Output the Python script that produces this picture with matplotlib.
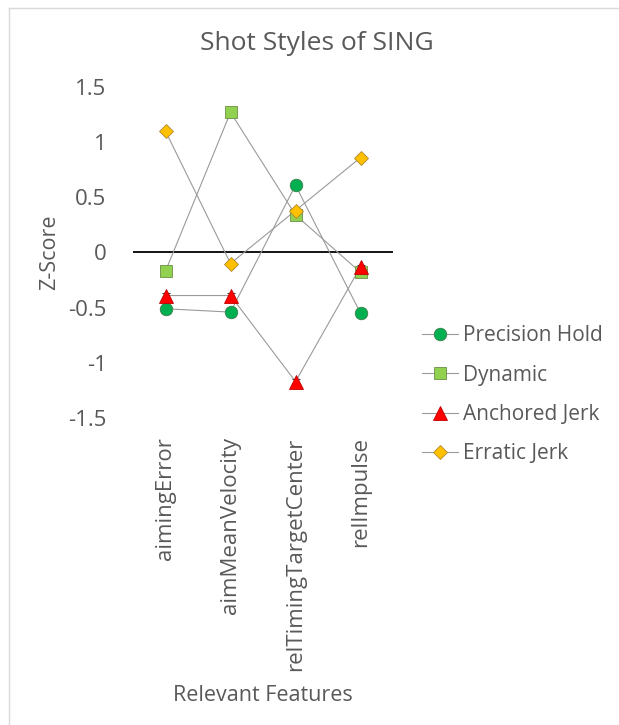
import matplotlib
matplotlib.use("Agg")
import matplotlib.pyplot as plt
from matplotlib.lines import Line2D

plt.rcParams['font.family'] = ['Open Sans', 'DejaVu Sans']

features = ["aimingError", "aimMeanVelocity", "relTimingTargetCenter", "relImpulse"]
precision_hold = [-0.51, -0.54, 0.61, -0.55]
dynamic = [-0.17, 1.27, 0.34, -0.18]
anchored_jerk = [-0.39, -0.39, -1.17, -0.13]
erratic_jerk = [1.10, -0.10, 0.38, 0.86]
err = [0.02, 0.02, 0.02, 0.02]
yticks = [1.5, 1, 0.5, 0, -0.5, -1, -1.5]
ytick_labels = ["1.5", "1", "0.5", "0", "-0.5", "-1", "-1.5"]

series = [
    ("Precision Hold", precision_hold, "o", "#00B050", "#3C7D4C", 9),
    ("Dynamic", dynamic, "s", "#92D050", "#6B8F47", 9),
    ("Anchored Jerk", anchored_jerk, "^", "#FF0000", "#C00000", 9.5),
    ("Erratic Jerk", erratic_jerk, "D", "#FFC000", "#B08A2E", 7),
]

text_color = "#595959"
fig = plt.figure(figsize=(6.19, 7.25), dpi=100)
ax = fig.add_axes([133 / 619, 1 - 418 / 725, 260 / 619, 331 / 725])

x = list(range(len(features)))
handles = []
for name, vals, mk, fc, ec, ms in series:
    ax.errorbar(x, vals, yerr=err, fmt="none", ecolor="#404040", elinewidth=0.8,
                capsize=3, capthick=0.8, zorder=3)
    ax.plot(x, vals, color="#9A9A9A", linewidth=0.8, zorder=2)
    ax.plot(x, vals, linestyle="none", marker=mk, markersize=ms,
            markerfacecolor=fc, markeredgecolor=ec, markeredgewidth=0.6, zorder=4)
    handles.append(Line2D([0], [0], color="#9A9A9A", linewidth=0.8, marker=mk,
                          markersize=ms, markerfacecolor=fc, markeredgecolor=ec,
                          markeredgewidth=0.6, label=name))

ax.axhline(0, color="black", linewidth=1.3, zorder=1)
ax.set_xlim(-0.5, len(features) - 0.5)
ax.set_ylim(-1.5, 1.5)
ax.set_yticks(yticks)
ax.set_yticklabels(ytick_labels)
ax.set_xticks(x)
ax.set_xticklabels(features, rotation=90)
ax.tick_params(axis="both", length=0, colors=text_color, labelsize=16)
ax.tick_params(axis="y", pad=19)
ax.tick_params(axis="x", pad=14)
for s in ax.spines.values():
    s.set_visible(False)

ax.set_ylabel("Z-Score", color=text_color, fontsize=15.5, labelpad=6)
ax.set_xlabel("Relevant Features", color=text_color, fontsize=15.5, labelpad=10)
fig.text(317 / 619, 1 - 43 / 725, "Shot Styles of SING", ha="center", va="center",
         color=text_color, fontsize=19)

fig.legend(handles=handles, loc="upper left", bbox_to_anchor=(414 / 619, 1 - 317 / 725),
           frameon=False, fontsize=15, labelcolor=text_color, handlelength=1.7,
           handletextpad=0.25, labelspacing=0.88, borderaxespad=0)

# light outer chart border (top and left)
fig.add_artist(Line2D([9 / 619, 9 / 619], [0, 1 - 8 / 725], transform=fig.transFigure,
                      color="#D9D9D9", linewidth=1))
fig.add_artist(Line2D([9 / 619, 1], [1 - 8 / 725, 1 - 8 / 725], transform=fig.transFigure,
                      color="#D9D9D9", linewidth=1))

fig.savefig("out.png", dpi=100)
